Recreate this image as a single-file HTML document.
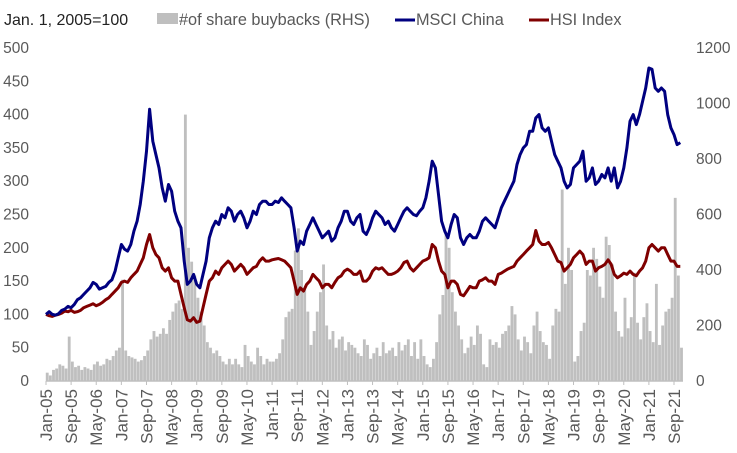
<!DOCTYPE html>
<html><head><meta charset="utf-8"><style>
html,body{margin:0;padding:0;background:#fff;}
svg{display:block;font-family:"Liberation Sans",Arial,sans-serif;}
</style></head><body>
<svg id="chart" width="737" height="453" viewBox="0 0 737 453">
<g id="legend">
<text x="4" y="25" font-size="16" fill="#222">Jan. 1, 2005=100</text>
<rect x="157" y="13" width="21" height="11" fill="#bfbfbf"/>
<text x="179" y="25" font-size="16.3" fill="#595959">#of share buybacks (RHS)</text>
<line x1="395" y1="20" x2="415" y2="20" stroke="#000080" stroke-width="3"/>
<text x="416" y="25" font-size="16.3" fill="#595959">MSCI China</text>
<line x1="529" y1="20" x2="549" y2="20" stroke="#800000" stroke-width="3"/>
<text x="550" y="25" font-size="16.3" fill="#595959">HSI Index</text>
</g>
<g id="bars"></g>
<g id="lines"></g>
<g id="axes"></g>
</svg>
<script>
const months = 203;
const leftTicks = [0,50,100,150,200,250,300,350,400,450,500];
const rightTicks = [0,200,400,600,800,1000,1200];
const xLabels = ["Jan-05","Sep-05","May-06","Jan-07","Sep-07","May-08","Jan-09","Sep-09","May-10","Jan-11","Sep-11","May-12","Jan-13","Sep-13","May-14","Jan-15","Sep-15","May-16","Jan-17","Sep-17","May-18","Jan-19","Sep-19","May-20","Jan-21","Sep-21"];
const msci = [
100,104,100,99,101,106,108,112,110,115,122,125,
130,135,140,148,145,138,140,142,148,152,165,185,
205,198,195,205,225,240,265,300,345,408,360,340,
320,290,270,295,285,255,240,230,180,145,150,160,
145,140,160,180,215,230,240,235,250,245,260,255,
240,250,255,245,230,240,255,250,265,270,270,265,
265,270,268,275,270,265,260,230,195,210,205,225,
235,245,235,225,215,220,225,210,215,230,240,255,
255,240,235,245,250,225,220,230,245,255,250,245,
235,240,230,225,235,245,255,260,255,250,248,255,
260,275,300,330,320,280,240,225,215,235,250,245,
215,205,215,220,215,215,225,240,245,240,235,230,
245,260,270,280,290,300,325,340,350,355,375,375,
395,400,380,375,380,360,340,330,320,300,290,295,
320,325,330,345,300,305,320,295,300,310,305,320,
300,320,290,300,320,350,390,400,385,400,420,440,
470,468,440,435,440,435,400,380,370,355,358];
const hsi = [
100,98,97,99,100,102,105,104,106,103,104,106,
110,112,114,116,113,115,118,122,125,130,135,140,
148,150,148,155,160,165,175,185,205,220,200,190,
185,170,165,170,155,150,150,130,110,92,90,95,
88,90,110,130,150,155,165,160,170,175,180,175,
165,170,175,170,160,165,170,172,180,185,180,180,
182,183,184,182,180,175,170,150,130,140,135,145,
150,160,155,150,140,145,145,140,148,155,158,165,
168,165,160,160,165,150,150,155,165,170,168,170,
165,160,160,162,165,170,178,180,170,165,170,175,
180,182,185,205,200,180,165,160,140,150,150,145,
130,128,135,142,140,140,150,152,155,150,150,145,
160,162,165,168,170,172,180,185,190,195,200,205,
226,210,205,205,208,200,190,180,178,165,170,175,
185,190,195,190,175,180,180,165,170,172,175,182,
175,160,155,158,162,160,165,160,158,165,170,180,
200,205,200,195,200,200,190,180,180,172,172];
const buybacks = [
30,20,40,45,60,55,45,160,70,50,55,40,
50,45,40,60,70,55,60,80,75,90,110,120,
365,110,90,85,80,70,75,90,110,150,180,160,
170,190,170,220,250,280,290,260,960,480,430,380,
300,250,200,140,120,100,110,90,70,60,80,60,
80,60,50,130,90,70,60,120,90,60,80,70,
70,80,100,150,230,250,260,470,550,400,330,250,
130,180,250,320,420,200,150,180,120,150,160,110,
140,130,120,100,90,150,130,80,100,120,90,140,
100,110,120,90,140,110,130,150,90,140,80,150,
90,60,50,80,140,240,310,530,480,320,250,200,
150,100,120,160,130,200,170,60,50,150,130,140,
120,170,180,200,270,240,150,110,160,140,100,200,
250,180,140,130,80,200,260,250,690,350,480,400,
70,90,180,210,400,380,480,440,340,300,520,490,
420,250,180,160,300,190,230,390,210,150,230,280,
180,140,350,130,200,250,260,300,660,380,120];

const NS='http://www.w3.org/2000/svg';
const X0=46, DX=3.14, Y0=381, YT=48;
const xS = i => X0 + i*DX;
const yL = v => Y0 - (v/500)*(Y0-YT);
const yR = v => Y0 - (v/1200)*(Y0-YT);
function mk(tag, attrs, parent){const e=document.createElementNS(NS,tag);for(const k in attrs)e.setAttribute(k,attrs[k]);parent.appendChild(e);return e;}

const gb=document.getElementById('bars');
buybacks.forEach((v,i)=>{
  const r=mk('rect',{x:xS(i)-0.2,y:yR(v),width:DX-0.3,height:Y0-yR(v),fill:'#bfbfbf'},gb);
  
  
});
const gl=document.getElementById('lines');
function line(arr,color,name){
  const d=arr.map((v,i)=>(i?'L':'M')+xS(i).toFixed(1)+','+yL(v).toFixed(1)).join(' ');
  const p=mk('path',{d:d,fill:'none',stroke:color,'stroke-width':3,'stroke-linejoin':'round'},gl);
  
  
}
line(hsi,'#800000','hsi-line');
line(msci,'#000080','msci-china-line');

const ga=document.getElementById('axes');
const ax=mk('line',{x1:X0,y1:Y0,x2:683,y2:Y0,stroke:'#bfbfbf','stroke-width':1.5},ga);


leftTicks.forEach(v=>{
  const t=mk('text',{x:29,y:yL(v)+5,'font-size':15.5,fill:'#595959','text-anchor':'end'},ga);
  t.textContent=v;
  
  
});
rightTicks.forEach(v=>{
  const t=mk('text',{x:696,y:yR(v)+5,'font-size':15.5,fill:'#595959'},ga);
  t.textContent=v;
  
  
});
xLabels.forEach((s,k)=>{
  const x=xS(k*8);
  const tk=mk('line',{x1:x,y1:Y0,x2:x,y2:Y0+4,stroke:'#bfbfbf','stroke-width':1},ga);
  
  
  const t=mk('text',{x:0,y:0,'font-size':17,fill:'#595959','text-anchor':'end',transform:`translate(${x+6},389) rotate(-90)`},ga);
  t.textContent=s;
  
  
});
</script>
</body></html>
